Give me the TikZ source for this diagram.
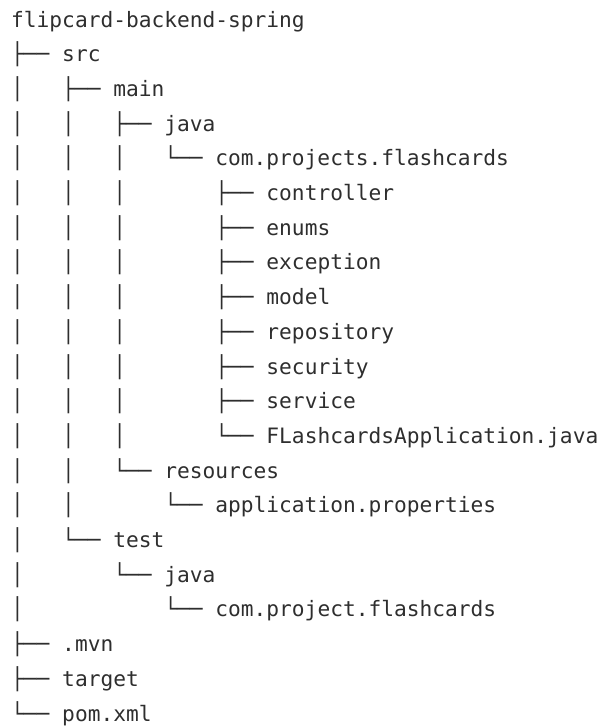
\documentclass[tikz,border=0pt]{standalone}
\usepackage{fontspec}
\setmonofont{DejaVu Sans Mono}
\usepackage{tikz}
\colorlet{treeink}{black!82}
\tikzset{entry/.style={anchor=base west,inner sep=0pt,text=treeink,
  font=\ttfamily\fontsize{21.2}{25}\selectfont}}

\begin{document}
\begin{tikzpicture}[x=1pt,y=1pt]
\useasboundingbox (0,0) rectangle (601,-726);
% one line of the listing per row, ~ keeps the indent spaces
\foreach \txt [count=\i from 0] in {
  flipcard-backend-spring,
  ├──~src,
  │~~~├──~main,
  │~~~│~~~├──~java,
  │~~~│~~~│~~~└──~com.projects.flashcards,
  │~~~│~~~│~~~~~~~├──~controller,
  │~~~│~~~│~~~~~~~├──~enums,
  │~~~│~~~│~~~~~~~├──~exception,
  │~~~│~~~│~~~~~~~├──~model,
  │~~~│~~~│~~~~~~~├──~repository,
  │~~~│~~~│~~~~~~~├──~security,
  │~~~│~~~│~~~~~~~├──~service,
  │~~~│~~~│~~~~~~~└──~FLashcardsApplication.java,
  │~~~│~~~└──~resources,
  │~~~│~~~~~~~└──~application.properties,
  │~~~└──~test,
  │~~~~~~~└──~java,
  │~~~~~~~~~~~└──~com.project.flashcards,
  ├──~.mvn,
  ├──~target,
  └──~pom.xml}
  \node[entry] (row\i) at (11,{-27-34.7*\i}) {\txt};
\end{tikzpicture}
\end{document}
